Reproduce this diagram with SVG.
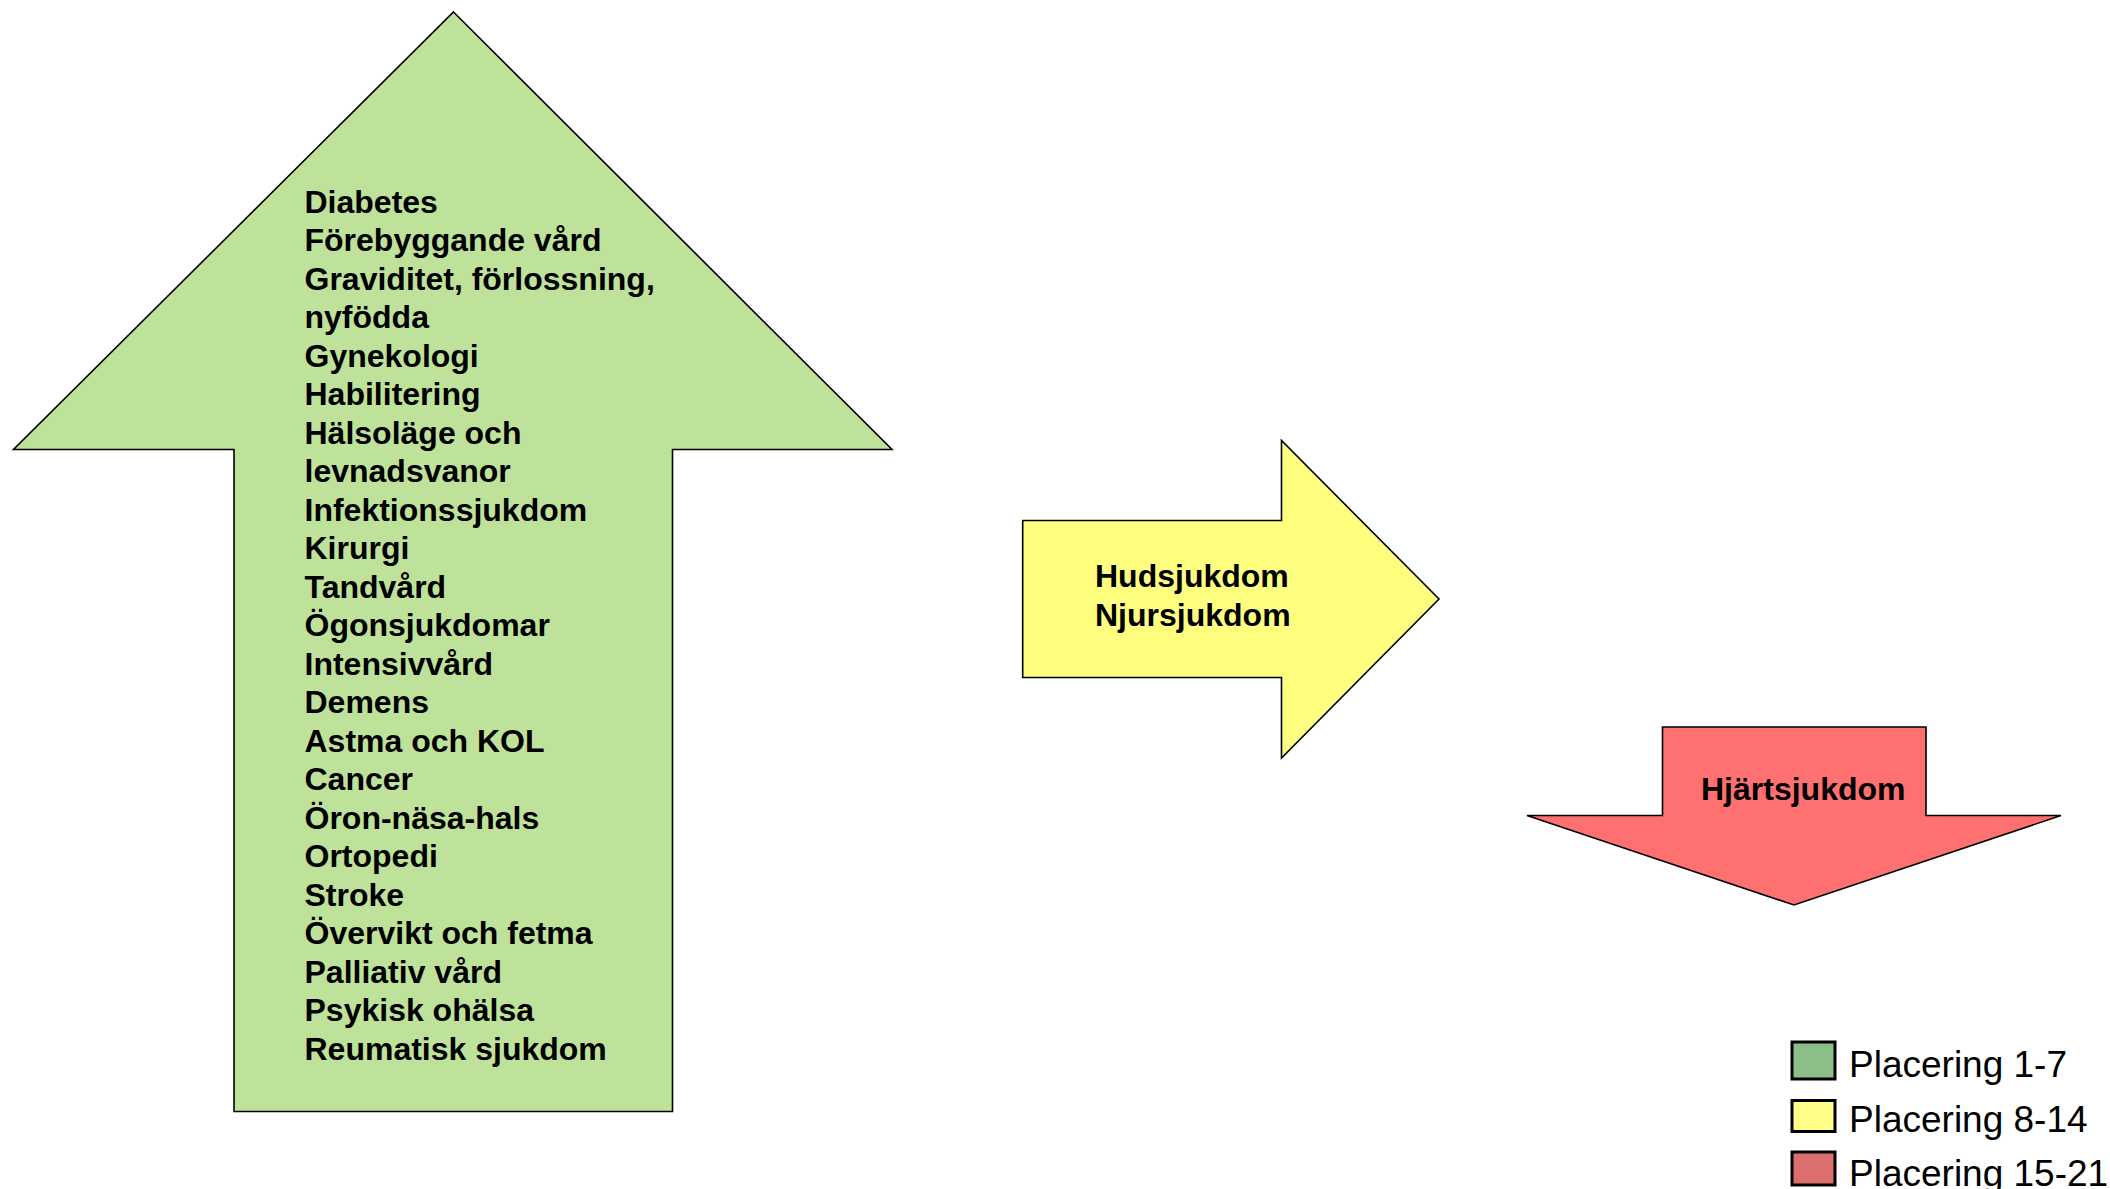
<svg xmlns="http://www.w3.org/2000/svg" width="2110" height="1189" viewBox="0 0 2110 1189">
<style>
.arrow{stroke:#000;stroke-width:1.6;stroke-linejoin:miter}
.lbl{font-family:"Liberation Sans",Arial,sans-serif;font-weight:bold;font-size:32px;fill:#000}
.leg{font-family:"Liberation Sans",Arial,sans-serif;font-size:37px;fill:#000}
.box{stroke:#000;stroke-width:3}
</style>
<rect width="2110" height="1189" fill="#fff"/>
<g id="green-arrow">
<polygon class="arrow" fill="#BFE29A" points="453.5,12 892,449.5 672.5,449.5 672.5,1111.5 234,1111.5 234,449.5 13.5,449.5"/>
<text class="lbl" x="304.5" y="212.7">
<tspan x="304.5" dy="0">Diabetes</tspan>
<tspan x="304.5" dy="38.5">Förebyggande vård</tspan>
<tspan x="304.5" dy="38.5">Graviditet, förlossning,</tspan>
<tspan x="304.5" dy="38.5">nyfödda</tspan>
<tspan x="304.5" dy="38.5">Gynekologi</tspan>
<tspan x="304.5" dy="38.5">Habilitering</tspan>
<tspan x="304.5" dy="38.5">Hälsoläge och</tspan>
<tspan x="304.5" dy="38.5">levnadsvanor</tspan>
<tspan x="304.5" dy="38.5">Infektionssjukdom</tspan>
<tspan x="304.5" dy="38.5">Kirurgi</tspan>
<tspan x="304.5" dy="38.5">Tandvård</tspan>
<tspan x="304.5" dy="38.5">Ögonsjukdomar</tspan>
<tspan x="304.5" dy="38.5">Intensivvård</tspan>
<tspan x="304.5" dy="38.5">Demens</tspan>
<tspan x="304.5" dy="38.5">Astma och KOL</tspan>
<tspan x="304.5" dy="38.5">Cancer</tspan>
<tspan x="304.5" dy="38.5">Öron-näsa-hals</tspan>
<tspan x="304.5" dy="38.5">Ortopedi</tspan>
<tspan x="304.5" dy="38.5">Stroke</tspan>
<tspan x="304.5" dy="38.5">Övervikt och fetma</tspan>
<tspan x="304.5" dy="38.5">Palliativ vård</tspan>
<tspan x="304.5" dy="38.5">Psykisk ohälsa</tspan>
<tspan x="304.5" dy="38.5">Reumatisk sjukdom</tspan>
</text>
</g>
<g id="yellow-arrow">
<polygon class="arrow" fill="#FFFF7F" points="1022.7,520.5 1281.5,520.5 1281.5,440.5 1439,599 1281.5,758 1281.5,677.5 1022.7,677.5"/>
<text class="lbl" x="1095" y="587">Hudsjukdom</text>
<text class="lbl" x="1095" y="625.5">Njursjukdom</text>
</g>
<g id="red-arrow">
<polygon class="arrow" fill="#FF7171" points="1662.5,727 1926,727 1926,815.5 2061,815.5 1794,905 1527,815.5 1662.5,815.5"/>
<text class="lbl" x="1701" y="799.5">Hjärtsjukdom</text>
</g>
<g id="legend">
<rect class="box" x="1792" y="1042" width="43" height="37" fill="#8CBF88"/>
<text class="leg" x="1849" y="1077">Placering 1-7</text>
<rect class="box" x="1792" y="1100.5" width="43" height="31" fill="#FFFF88"/>
<text class="leg" x="1849" y="1132">Placering 8-14</text>
<rect class="box" x="1792" y="1152" width="43" height="33" fill="#DD6E6E"/>
<text class="leg" x="1849" y="1186">Placering 15-21</text>
</g>
<g id="connectors"></g>
</svg>
